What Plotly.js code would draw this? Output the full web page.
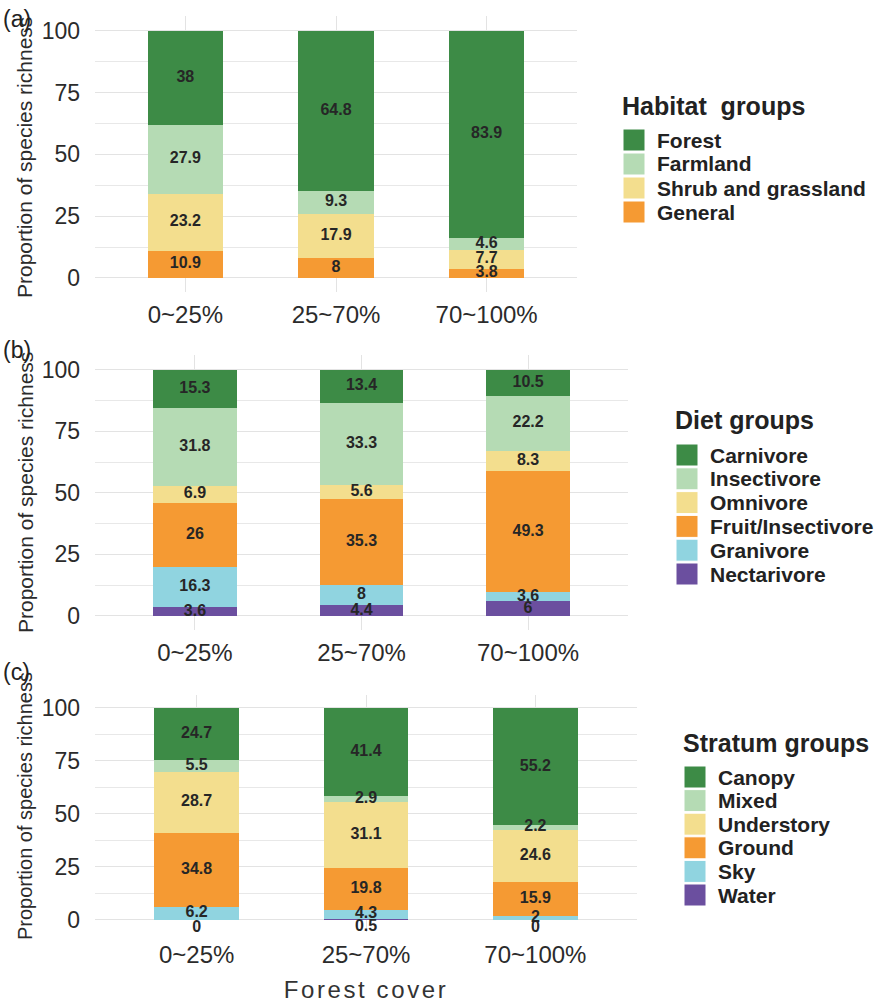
<!DOCTYPE html>
<html>
<head>
<meta charset="utf-8">
<script src="https://cdn.plot.ly/plotly-3.0.1.min.js"></script>
<style>
  html, body { margin: 0; padding: 0; background: #ffffff; }
  #chart { width: 885px; height: 1004px; }
  .x3title { letter-spacing: 2.6px; }
</style>
</head>
<body>
<div id="chart"></div>
<script>
// ---------------- DATA ----------------
const categories = ['0~25%', '25~70%', '70~100%'];

// (a) Habitat groups (legend order, top of stack first)
const habitatNames = ['Forest', 'Farmland', 'Shrub and grassland', 'General'];
const habitatForest = [38, 64.8, 83.9];
const habitatFarmland = [27.9, 9.3, 4.6];
const habitatShrub = [23.2, 17.9, 7.7];
const habitatGeneral = [10.9, 8, 3.8];

// (b) Diet groups
const dietNames = ['Carnivore', 'Insectivore', 'Omnivore', 'Fruit/Insectivore', 'Granivore', 'Nectarivore'];
const dietCarnivore = [15.3, 13.4, 10.5];
const dietInsectivore = [31.8, 33.3, 22.2];
const dietOmnivore = [6.9, 5.6, 8.3];
const dietFruitInsect = [26, 35.3, 49.3];
const dietGranivore = [16.3, 8, 3.6];
const dietNectarivore = [3.6, 4.4, 6];

// (c) Stratum groups
const stratumNames = ['Canopy', 'Mixed', 'Understory', 'Ground', 'Sky', 'Water'];
const stratumCanopy = [24.7, 41.4, 55.2];
const stratumMixed = [5.5, 2.9, 2.2];
const stratumUnderstory = [28.7, 31.1, 24.6];
const stratumGround = [34.8, 19.8, 15.9];
const stratumSky = [6.2, 4.3, 2];
const stratumWater = [0, 0.5, 0];

const yTicks = [0, 25, 50, 75, 100];
const yTitleText = 'Proportion of species richness';

// ---------------- STYLE ----------------
const palette = ['#3d8b46', '#b5dbb4', '#f3de8e', '#f59a33', '#90d4e0', '#6b4f9f'];
const FONT = 'Liberation Sans, Arial, Helvetica, sans-serif';
const W = 885, H = 1004;
const px = v => v / W;
const py = v => 1 - v / H;

const panels = [
  { id: '', names: habitatNames, series: [habitatForest, habitatFarmland, habitatShrub, habitatGeneral],
    legendTitle: 'Habitat\u00A0 groups', tag: '(a)', tagY: 19, ytSize: 21, ytY: 158,
    xd: [95, 577], yd: [292, 16], leg: { x: 623, titleY: 106, firstY: 140, step: 24 } },
  { id: '2', names: dietNames, series: [dietCarnivore, dietInsectivore, dietOmnivore, dietFruitInsect, dietGranivore, dietNectarivore],
    legendTitle: 'Diet groups', tag: '(b)', tagY: 350, ytSize: 21, ytY: 493,
    xd: [95, 628], yd: [630, 355], leg: { x: 676, titleY: 420, firstY: 455, step: 23.8 } },
  { id: '3', names: stratumNames, series: [stratumCanopy, stratumMixed, stratumUnderstory, stratumGround, stratumSky, stratumWater],
    legendTitle: 'Stratum groups', tag: '(c)', tagY: 672, ytSize: 20, ytY: 806,
    xd: [95, 637], yd: [932, 695], leg: { x: 684, titleY: 743, firstY: 777, step: 23.6 } }
];

const traces = [];
const layout = {
  width: W, height: H,
  margin: { l: 0, r: 0, t: 0, b: 0 },
  paper_bgcolor: '#ffffff', plot_bgcolor: '#ffffff',
  barmode: 'stack', bargap: 0.5,
  showlegend: false,
  font: { family: FONT, color: '#2b2b2b' },
  annotations: [], shapes: []
};

panels.forEach((p, pi) => {
  const xa = 'x' + p.id, ya = 'y' + p.id;
  const n = p.series.length;
  // bars, bottom of stack first
  const cum = categories.map(() => 0);
  for (let k = n - 1; k >= 0; k--) {
    const vals = p.series[k];
    traces.push({
      type: 'bar', x: categories, y: vals, xaxis: xa, yaxis: ya,
      name: p.names[k], width: 0.5,
      marker: { color: palette[k], line: { width: 0 } },
      hoverinfo: 'x+y+name'
    });
    const mids = vals.map((v, i) => cum[i] + v / 2);
    vals.forEach((v, i) => { cum[i] += v; });
    const isWater = (pi === 2 && k === n - 1);
    traces.push({
      type: 'scatter', mode: 'text', x: categories, y: mids, xaxis: xa, yaxis: ya,
      text: vals.map(v => String(v)),
      textposition: isWater ? 'bottom center' : 'middle center',
      textfont: { family: FONT, size: 16, color: '#262626', weight: 'bold' },
      hoverinfo: 'skip', showlegend: false, cliponaxis: false
    });
  }

  const axX = {
    domain: [px(p.xd[0]), px(p.xd[1])], anchor: ya,
    type: 'category', range: [-0.6, 2.6],
    showgrid: true, gridcolor: '#e3e3e3', gridwidth: 1.4,
    zeroline: false, showline: false, ticks: '',
    tickfont: { family: FONT, size: 24, color: '#2b2b2b' },
    ticklabelstandoff: 6, fixedrange: true
  };
  if (pi === 2) {
    axX.title = { text: 'Forest cover', font: { family: FONT, size: 24, color: '#333333' }, standoff: 14 };
  }
  const axY = {
    domain: [py(p.yd[0]), py(p.yd[1])], anchor: xa,
    range: [-5.7, 106], tickmode: 'array', tickvals: yTicks, ticktext: yTicks.map(String),
    showgrid: true, gridcolor: '#e3e3e3', gridwidth: 1.4,
    minor: { dtick: 12.5, tick0: 0, showgrid: true, gridcolor: '#e8e8e8', gridwidth: 1, ticks: '' },
    zeroline: false, showline: false, ticks: '',
    tickfont: { family: FONT, size: 23, color: '#2b2b2b' },
    ticklabelstandoff: 14, fixedrange: true
  };
  layout['xaxis' + p.id] = axX;
  layout['yaxis' + p.id] = axY;

  // y-axis title (rotated)
  layout.annotations.push({
    xref: 'paper', yref: 'paper', x: px(25), y: py(p.ytY), xanchor: 'center', yanchor: 'middle',
    text: yTitleText, textangle: -90, showarrow: false,
    font: { family: FONT, size: p.ytSize, color: '#2b2b2b' }
  });

  // panel tag
  layout.annotations.push({
    xref: 'paper', yref: 'paper', x: px(1), y: py(p.tagY), xanchor: 'left', yanchor: 'middle',
    text: p.tag, showarrow: false, font: { family: FONT, size: 23, color: '#222222' }
  });

  // legend (title, swatches, labels)
  layout.annotations.push({
    xref: 'paper', yref: 'paper', x: px(p.leg.x - 3), y: py(p.leg.titleY), xanchor: 'left', yanchor: 'middle',
    text: '<b>' + p.legendTitle + '</b>', showarrow: false,
    font: { family: FONT, size: 25, color: '#222222' }
  });
  p.names.forEach((nm, k) => {
    const cy = p.leg.firstY + k * p.leg.step;
    layout.shapes.push({
      type: 'rect', xref: 'paper', yref: 'paper',
      x0: px(p.leg.x), x1: px(p.leg.x + 22),
      y0: py(cy + 11), y1: py(cy - 11),
      fillcolor: palette[k], line: { width: 1, color: '#ffffff' }, layer: 'above'
    });
    layout.annotations.push({
      xref: 'paper', yref: 'paper', x: px(p.leg.x + 32), y: py(cy), xanchor: 'left', yanchor: 'middle',
      text: '<b>' + nm + '</b>', showarrow: false,
      font: { family: FONT, size: 21, color: '#222222' }
    });
  });
});

Plotly.newPlot('chart', traces, layout, { displayModeBar: false, responsive: false });
</script>
</body>
</html>
